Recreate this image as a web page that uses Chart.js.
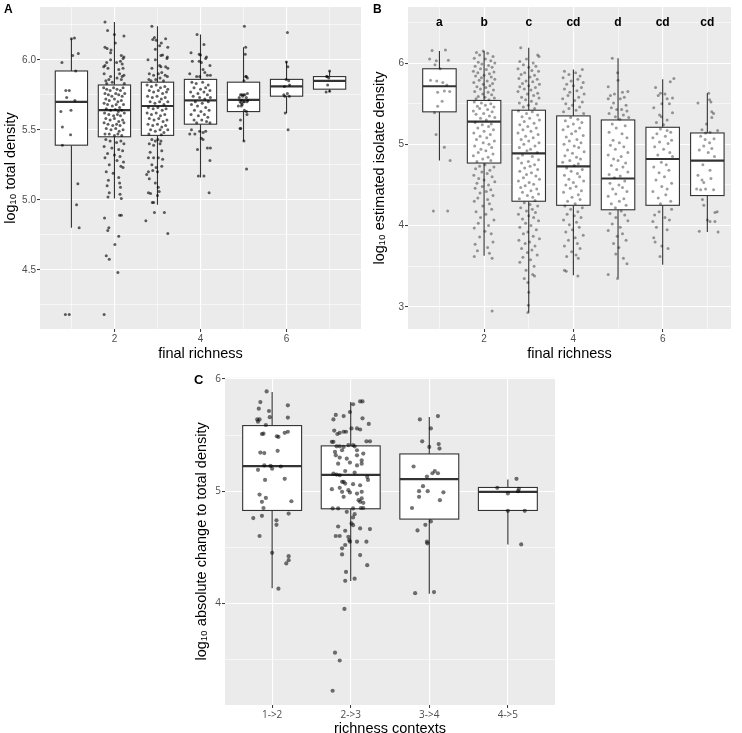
<!DOCTYPE html>
<html>
<head>
<meta charset="utf-8">
<script src="https://cdn.jsdelivr.net/npm/chart.js@4.4.1/dist/chart.umd.min.js"></script>
<style>
  body { margin: 0; background: #fff; width: 742px; height: 733px; position: relative; overflow: hidden; }
  .panel { position: absolute; }
</style>
</head>
<body>
<div class="panel" style="left:0;top:0"><canvas id="chartA" width="370" height="365"></canvas></div>
<div class="panel" style="left:370px;top:0"><canvas id="chartB" width="372" height="365"></canvas></div>
<div class="panel" style="left:180px;top:365px"><canvas id="chartC" width="400" height="372"></canvas></div>
<script>
// ---- panel A: log10 total density by final richness ----
const richness = [1, 2, 3, 4, 5, 6, 7];
// box stats: [lower whisker, q1, median, q3, upper whisker]
const boxA = [
  [4.80, 5.39, 5.70, 5.92, 6.15],
  [5.01, 5.45, 5.64, 5.82, 6.27],
  [4.965, 5.46, 5.67, 5.84, 6.24],
  [5.16, 5.54, 5.71, 5.86, 6.18],
  [5.42, 5.63, 5.713, 5.84, 6.09],
  [5.62, 5.74, 5.81, 5.86, 5.99],
  [5.77, 5.79, 5.85, 5.88, 5.92]
];
// jittered points: [x jitter, value]
const pointsA = [
  [[-.22,5.98],[-.13,5.78],[-.05,5.78],[-.11,5.73],[-.245,5.63],[-.01,5.64],[-.21,5.52],[-.02,5.465],[-.21,5.39],[.08,5.71],[.03,6.03],[0,6.15],[.07,6.155],[.16,6.045],[.1,5.92],[.15,5.115],[.12,4.965],[.18,4.8],[-.14,4.18],[-.05,4.18]],
  [[-.22,6.27],[-.16,6.21],[0,6.18],[.22,6.17],[.02,6.12],[-.22,6.09],[-.17,6.08],[-.08,6.07],[-.09,6.05],[.16,6.03],[.2,6.01],[.22,6.02],[-.18,5.98],[-.22,5.96],[-.25,5.95],[-.15,5.94],[-.09,6.0],[.05,5.98],[.14,5.99],[.18,5.97],[.2,5.94],[.1,5.93],[.12,5.9],[.18,5.88],[.22,5.89],[.16,5.86],[.06,5.87],[-.09,5.88],[-.13,5.86],[-.2,5.85],[-.24,5.9],[-.05,5.84],[.23,5.83],[-.18,5.83],
   [-.25,5.8],[-.18,5.79],[-.1,5.78],[-.02,5.8],[.06,5.79],[.14,5.78],[.2,5.8],[-.22,5.76],[-.14,5.75],[-.06,5.74],[.03,5.76],[.1,5.75],[.18,5.74],[.24,5.76],[-.2,5.72],[-.12,5.71],[0,5.72],[.08,5.7],[.16,5.71],[-.24,5.69],[-.16,5.68],[-.05,5.67],[.04,5.68],[.12,5.66],[.21,5.68],[-.19,5.65],[-.09,5.64],[.02,5.645],[.09,5.63],[.17,5.64],[-.23,5.62],[-.13,5.61],[-.02,5.6],[.07,5.61],[.14,5.6],[.23,5.62],[-.2,5.58],[-.1,5.57],[0,5.58],[.1,5.56],[.19,5.57],[-.24,5.55],[-.15,5.54],[-.04,5.53],[.05,5.54],[.13,5.53],[.22,5.55],[-.19,5.51],[-.08,5.5],[.03,5.51],[.11,5.49],[.2,5.5],[-.22,5.47],[-.12,5.47],[0,5.46],[.08,5.47],[.17,5.46],
   [-.2,5.43],[-.1,5.42],[.05,5.41],[.15,5.42],[.22,5.4],[-.24,5.38],[-.06,5.37],[.1,5.36],[.19,5.35],[-.16,5.33],[0,5.32],[.13,5.31],[-.22,5.3],[.06,5.28],[.21,5.27],[-.12,5.25],[.15,5.24],[.2,5.23],[-.19,5.2],[-.03,5.19],[.1,5.16],[-.14,5.14],[.12,5.12],[-.17,5.1],[.14,5.09],[-.12,5.05],[.13,5.04],[-.15,5.02],[.16,5.01],
   [-.23,4.87],[-.155,4.78],[-.13,4.8],[.12,4.89],[.16,4.89],[.1,4.74],[.01,4.68],[-.19,4.6],[-.12,4.575],[.08,4.48],[-.24,4.18]],
  [[-.13,6.24],[-.07,6.16],[-.11,6.145],[-.03,6.14],[.05,6.1],[.09,6.12],[.19,6.15],[.24,6.09],[-.05,6.075],[.08,6.03],[.12,6.035],[.23,6.02],[.22,6.01],[-.22,6.0],[-.05,6.0],[.05,5.96],[.08,5.95],[.19,5.95],[.24,5.94],[-.13,5.94],[-.19,5.9],[-.09,5.89],[.02,5.9],[.1,5.91],[.18,5.89],[.23,5.88],[-.2,5.86],[-.15,5.85],[-.04,5.86],[.06,5.87],[.14,5.85],
   [-.24,5.82],[-.14,5.81],[-.03,5.82],[.07,5.8],[.17,5.81],[.24,5.79],[-.19,5.78],[-.09,5.77],[.02,5.78],[.12,5.76],[.21,5.77],[-.23,5.74],[-.12,5.73],[-.01,5.74],[.09,5.72],[.18,5.73],[-.17,5.7],[-.06,5.69],[.05,5.7],[.15,5.68],[.24,5.7],[-.21,5.66],[-.1,5.65],[.01,5.66],[.11,5.64],[.2,5.65],[-.24,5.62],[-.14,5.61],[-.03,5.62],[.07,5.6],[.17,5.61],[-.19,5.58],[-.08,5.57],[.03,5.58],[.13,5.56],[.22,5.57],[-.22,5.54],[-.11,5.53],[0,5.54],[.1,5.52],[.19,5.53],[-.16,5.5],[-.05,5.49],[.06,5.5],[.15,5.48],[.24,5.5],[-.2,5.47],[.09,5.465],
   [-.13,5.43],[-.05,5.42],[.01,5.43],[.08,5.42],[-.19,5.4],[-.09,5.39],[.06,5.4],[.1,5.35],[-.17,5.34],[-.21,5.3],[-.09,5.3],[.02,5.3],[.12,5.29],[-.13,5.25],[-.03,5.23],[.1,5.24],[-.21,5.2],[-.11,5.21],[0,5.2],[-.25,5.18],[-.19,5.15],[-.05,5.12],[.02,5.09],[.04,5.06],[0,5.03],[-.21,5.05],[-.16,5.045],[-.12,4.98],[-.09,4.98],[-.07,4.91],[.16,4.91],[-.27,4.85],[.24,4.76]],
  [[-.08,6.18],[.08,6.11],[-.22,6.05],[-.03,6.04],[0,6.035],[.14,6.02],[.12,6.01],[-.19,5.99],[-.03,5.99],[.02,5.98],[.22,5.96],[.06,5.93],[.1,5.91],[-.25,5.9],[.16,5.89],[.23,5.89],[-.09,5.88],[-.02,5.88],
   [-.2,5.84],[-.1,5.83],[.05,5.84],[.18,5.82],[-.15,5.8],[0,5.79],[.12,5.8],[.22,5.78],[-.23,5.77],[-.06,5.76],[.08,5.77],[.16,5.75],[-.17,5.74],[-.02,5.73],[.1,5.72],[.23,5.73],[-.12,5.7],[.04,5.69],[.18,5.7],[-.21,5.68],[-.07,5.67],[.12,5.66],[-.14,5.64],[.01,5.63],[.2,5.64],[-.22,5.61],[-.05,5.6],[.09,5.61],[.17,5.59],[-.15,5.57],[.03,5.57],[.14,5.56],[-.09,5.55],[.22,5.55],
   [-.25,5.47],[-.21,5.5],[-.13,5.47],[-.02,5.49],[.06,5.48],[.12,5.49],[.02,5.44],[.06,5.43],[-.07,5.36],[.16,5.37],[.23,5.37],[.22,5.28],[-.05,5.17],[.08,5.17],[.2,5.05]],
  [[.02,6.24],[.05,6.09],[.04,6.04],[.01,5.85],[.05,5.88],[.065,5.88],[.09,5.87],[-.07,5.75],[-.04,5.75],[0,5.75],[.03,5.75],[.09,5.76],[.065,5.73],[-.02,5.74],[-.1,5.73],[-.05,5.71],[-.08,5.7],[-.05,5.69],[0,5.7],[.02,5.7],[.08,5.7],[.1,5.71],[-.12,5.67],[-.05,5.67],[-.03,5.68],[.02,5.64],[.07,5.63],[.08,5.61],[-.07,5.57],[-.08,5.51],[-.065,5.51],[.01,5.42],[.07,5.22]],
  [[.02,6.195],[-.005,5.985],[.03,5.95],[-.01,5.86],[.05,5.85],[.07,5.82],[-.05,5.81],[-.065,5.75],[-.04,5.74],[.02,5.76],[.065,5.74],[-.03,5.62],[.035,5.5]],
  [[0,5.92],[-.07,5.88],[-.055,5.88],[-.02,5.87],[-.045,5.82],[-.08,5.77],[0,5.775]]
];
const yMajorA = [4.5, 5.0, 5.5, 6.0];
const yMinorA = [4.25, 4.75, 5.25, 5.75, 6.25];
const xMajor = [2, 4, 6];
const xMinor = [1, 3, 5, 7];

// ---- panel B: log10 estimated isolate density by final richness ----
const lettersB = ['a', 'b', 'c', 'cd', 'd', 'cd', 'cd'];
const boxB = [
  [4.80, 5.40, 5.715, 5.93, 6.15],
  [3.63, 4.77, 5.28, 5.54, 6.15],
  [2.93, 4.30, 4.89, 5.42, 6.19],
  [3.39, 4.25, 4.73, 5.35, 5.92],
  [3.36, 4.195, 4.58, 5.30, 6.06],
  [3.52, 4.25, 4.82, 5.21, 5.80],
  [3.92, 4.37, 4.80, 5.14, 5.63]
];
const pointsB = [
  [[-.165,6.155],[.135,6.16],[-.22,6.05],[.2,6.035],[-.07,6.03],[-.1,5.98],[.015,5.93],[-.2,5.79],[-.06,5.78],[.165,5.73],[.075,5.76],[-.04,5.64],[.11,5.655],[.23,5.65],[.06,5.53],[-.04,5.47],[-.11,5.39],[-.075,5.12],[.11,4.965],[.24,4.8],[-.135,4.18],[.185,4.18]],
  [[-.02,6.15],[-.17,6.13],[.08,6.12],[-.1,6.1],[.2,6.08],[-.22,6.06],[.03,6.05],[.15,6.03],[-.13,6.01],[.24,6.0],[-.05,5.99],[.1,5.97],[-.2,5.96],[.18,5.95],[-.08,5.93],[.05,5.92],[-.24,5.9],[.22,5.89],[-.14,5.88],[.12,5.87],[0,5.85],[-.19,5.84],[.16,5.83],[-.06,5.82],[.24,5.8],[-.11,5.79],[.07,5.78],[-.23,5.76],[.19,5.75],[-.02,5.74],[.13,5.72],[-.16,5.71],[.04,5.7],[-.08,5.68],[.21,5.67],[-.21,5.65],[.09,5.64],[-.03,5.62],[.17,5.61],[-.13,5.59],[.02,5.58],[.23,5.57],[-.18,5.56],[.11,5.55],
   [-.22,5.52],[-.06,5.51],[.15,5.5],[.03,5.48],[-.15,5.47],[.22,5.46],[-.1,5.44],[.08,5.43],[-.24,5.41],[.18,5.4],[-.01,5.38],[-.18,5.37],[.12,5.35],[.24,5.33],[-.08,5.32],[.05,5.3],[-.2,5.27],[.16,5.25],[-.04,5.24],[.1,5.22],[-.14,5.2],[.21,5.18],[0,5.16],[-.23,5.14],[.14,5.12],[-.09,5.1],[.06,5.08],[-.17,5.06],[.23,5.04],[-.02,5.02],[.11,5.0],[-.21,4.98],[.17,4.96],[-.07,4.94],[.04,4.92],[-.13,4.9],[.2,4.88],[-.24,4.86],[.09,4.84],[-.03,4.82],[.15,4.8],[-.16,4.79],
   [.02,4.75],[-.1,4.73],[.22,4.72],[-.19,4.7],[.13,4.68],[-.05,4.66],[.07,4.64],[-.23,4.62],[.18,4.6],[-.12,4.58],[0,4.56],[.24,4.54],[-.16,4.52],[.1,4.5],[-.04,4.48],[-.2,4.46],[.15,4.44],[.05,4.42],[-.09,4.4],[.2,4.37],[-.14,4.34],[.08,4.32],[-.22,4.3],[.12,4.27],[-.03,4.24],[.17,4.2],[-.18,4.17],[.04,4.14],[-.08,4.1],[.22,4.07],[-.13,4.03],[.1,4.0],[-.22,3.97],[.02,3.93],[.16,3.9],[-.1,3.86],[.2,3.8],[-.2,3.77],[.08,3.73],[-.15,3.69],[.12,3.66],[-.22,3.62],[.18,3.6],[.18,2.95]],
  [[-.18,6.19],[.2,6.1],[.23,6.08],[-.05,6.05],[-.2,6.02],[.1,6.0],[-.12,5.98],[.16,5.96],[0,5.95],[-.24,5.93],[.07,5.91],[.22,5.9],[-.09,5.88],[-.17,5.86],[.13,5.85],[.03,5.83],[-.22,5.81],[.19,5.8],[-.06,5.78],[.09,5.77],[-.14,5.75],[.24,5.74],[0,5.72],[-.2,5.71],[.15,5.7],[-.1,5.68],[.05,5.67],[-.24,5.65],[.2,5.63],[-.03,5.62],[.11,5.6],[-.16,5.58],[.23,5.57],[-.07,5.55],[.06,5.53],[-.21,5.51],[.17,5.5],[-.01,5.48],[-.12,5.46],[.13,5.44],
   [-.23,5.41],[.08,5.4],[-.05,5.38],[.2,5.36],[-.15,5.34],[.02,5.32],[.24,5.3],[-.1,5.28],[.12,5.26],[-.2,5.24],[-.02,5.22],[.17,5.2],[-.13,5.18],[.05,5.16],[-.24,5.14],[.21,5.12],[-.07,5.1],[.1,5.08],[-.17,5.06],[0,5.04],[.23,5.02],[-.11,5.0],[.14,4.98],[-.21,4.96],[.04,4.94],[-.04,4.92],[.19,4.9],[-.14,4.87],[.08,4.85],[-.24,4.83],[.22,4.81],[-.01,4.79],[-.16,4.77],[.13,4.75],[.03,4.73],[-.09,4.71],[.2,4.69],[-.2,4.67],[.06,4.65],[-.05,4.63],[.16,4.61],[-.12,4.59],[.24,4.57],[-.23,4.55],[.01,4.53],[.11,4.51],[-.08,4.49],[-.18,4.47],[.18,4.45],[.05,4.43],[-.14,4.41],[.22,4.39],[-.03,4.37],[.09,4.35],[-.21,4.33],[.14,4.31],
   [-.1,4.28],[.03,4.26],[.2,4.24],[-.18,4.22],[.08,4.2],[-.05,4.18],[.15,4.16],[-.23,4.14],[0,4.12],[.11,4.1],[-.14,4.08],[.22,4.06],[-.07,4.03],[.05,4.0],[-.2,3.98],[.17,3.95],[-.02,3.92],[-.12,3.9],[.1,3.87],[.24,3.84],[-.22,3.82],[.02,3.8],[-.08,3.78],[.14,3.75],[-.16,3.72],[.07,3.7],[-.03,3.67],[.19,3.64],[-.13,3.61],[.04,3.58],[-.2,3.55],[.12,3.5],[-.06,3.45],[.09,3.4],[-.1,3.35],[.13,3.38],[-.02,3.3],[0,3.18],[-.01,3.02],[-.02,2.93]],
  [[-.2,5.9],[.2,5.92],[.05,5.88],[-.1,5.86],[.15,5.84],[-.23,5.82],[.1,5.8],[-.05,5.78],[.22,5.76],[-.15,5.74],[0,5.72],[.18,5.7],[-.2,5.68],[.08,5.66],[-.08,5.64],[.24,5.62],[-.12,5.6],[.12,5.58],[-.24,5.56],[.03,5.54],[.2,5.52],[-.17,5.5],[-.02,5.48],[.14,5.46],[-.1,5.44],[.06,5.42],[-.22,5.4],[.23,5.38],
   [-.06,5.33],[.1,5.31],[-.18,5.29],[.19,5.27],[0,5.25],[-.12,5.22],[.14,5.2],[-.23,5.18],[.05,5.16],[-.04,5.13],[.22,5.11],[-.16,5.09],[.08,5.06],[-.09,5.04],[.17,5.02],[-.21,5.0],[.02,4.98],[.12,4.96],[-.13,4.93],[.24,4.91],[-.02,4.89],[-.19,4.86],[.07,4.84],[.16,4.82],[-.08,4.8],[-.24,4.78],[.11,4.76],[.02,4.74],[-.15,4.71],[.2,4.69],[-.05,4.67],[.09,4.64],[-.2,4.62],[.14,4.6],[-.1,4.57],[.23,4.55],[0,4.53],[-.17,4.5],[.06,4.48],[-.07,4.46],[.18,4.43],[-.22,4.41],[.11,4.38],[-.03,4.35],[.15,4.32],[-.13,4.3],[.04,4.27],
   [-.19,4.24],[.2,4.22],[-.06,4.2],[.1,4.17],[-.14,4.14],[.02,4.12],[.17,4.1],[-.22,4.07],[.07,4.04],[-.09,4.01],[.13,3.98],[-.02,3.95],[-.17,3.92],[.22,3.88],[.04,3.85],[-.11,3.82],[.09,3.78],[-.2,3.75],[.15,3.72],[-.04,3.68],[.06,3.64],[-.15,3.62],[.11,3.6],[-.2,3.45],[-.16,3.44],[.1,3.38]],
  [[-.13,6.06],[-.01,5.88],[-.22,5.71],[0,5.79],[-.17,5.6],[-.08,5.62],[.1,5.64],[.22,5.65],[-.22,5.56],[.05,5.56],[.14,5.58],[-.1,5.51],[.18,5.48],[-.15,5.45],[.08,5.43],[-.03,5.43],[.2,5.41],[-.2,5.38],[.12,5.36],[-.06,5.34],[.24,5.33],[.04,5.31],
   [-.13,5.25],[.16,5.23],[-.04,5.2],[-.2,5.15],[.09,5.13],[.2,5.08],[-.11,5.05],[.03,5.02],[-.17,4.99],[.13,4.97],[-.06,4.94],[.22,4.9],[-.22,4.87],[.07,4.85],[-.1,4.82],[0,4.8],[.17,4.77],[-.15,4.74],[.11,4.72],[-.03,4.69],[.22,4.66],[-.2,4.63],[.05,4.61],[-.08,4.59],[.15,4.55],[-.18,4.52],[.02,4.5],[.1,4.47],[-.12,4.45],[.2,4.42],[-.05,4.39],[-.22,4.36],[.13,4.33],[.03,4.3],[-.15,4.27],[.18,4.25],[-.06,4.22],
   [.07,4.18],[-.18,4.15],[.15,4.13],[-.05,4.1],[.22,4.06],[-.13,4.02],[.05,3.98],[-.22,3.94],[.1,3.9],[-.02,3.87],[.18,3.82],[-.1,3.78],[.02,3.73],[-.05,3.65],[.12,3.6],[.2,3.53],[-.22,3.4],[-.01,3.35]],
  [[.25,5.81],[.17,5.77],[-.16,5.7],[-.05,5.63],[-.1,5.6],[.05,5.62],[.1,5.56],[.22,5.57],[.15,5.5],[-.02,5.5],[-.2,5.45],[.22,5.39],[-.07,5.36],[-.03,5.34],[.1,5.3],[-.14,5.27],[.02,5.24],
   [-.05,5.19],[.1,5.17],[.18,5.15],[-.13,5.13],[.06,5.1],[-.22,5.08],[.2,5.05],[-.07,5.03],[.12,5.01],[-.18,4.97],[.02,4.94],[.16,4.9],[-.11,4.87],[.22,4.85],[-.03,4.78],[.08,4.75],[-.2,4.72],[.14,4.68],[-.08,4.65],[.04,4.6],[-.15,4.56],[.2,4.52],[-.02,4.48],[.1,4.45],[-.22,4.42],[.07,4.38],[-.1,4.34],[.18,4.3],[-.05,4.27],
   [.2,4.2],[-.08,4.17],[-.18,4.13],[.05,4.1],[-.22,4.05],[.15,4.07],[-.14,3.98],[.1,3.95],[-.2,3.85],[-.17,3.8],[-.02,3.75],[.12,3.72],[-.06,3.62]],
  [[.03,5.63],[.05,5.55],[-.21,5.51],[.08,5.52],[.1,5.4],[.14,5.38],[.1,5.33],[-.02,5.25],[-.12,5.18],[.23,5.17],[.06,5.15],[-.04,5.14],[-.15,5.1],[-.05,5.06],[.15,5.07],[.05,5.02],[-.08,4.98],[.1,4.95],[-.18,4.93],[.02,4.9],[.16,4.85],[-.1,4.75],[.06,4.68],[-.21,4.62],[-.12,4.56],[-.08,4.53],[.08,4.58],[-.24,4.45],[-.15,4.44],[-.04,4.45],[.14,4.44],[-.11,4.32],[-.08,4.25],[0,4.07],[.17,4.16],[.22,4.17],[.06,4.05],[.17,4.05],[-.18,3.93],[.24,3.92]]
];
const yMajorB = [3, 4, 5, 6];
const yMinorB = [3.5, 4.5, 5.5, 6.5];

// ---- panel C: log10 absolute change to total density by richness context ----
const contexts = ['1->2', '2->3', '3->4', '4->5'];
const boxC = [
  [4.134, 4.828, 5.223, 5.585, 5.884],
  [4.199, 4.843, 5.145, 5.404, 5.795],
  [4.086, 4.751, 5.107, 5.332, 5.662],
  [4.525, 4.828, 4.994, 5.033, 5.104]
];
const pointsC = [
  [[-.07,5.89],[-.15,5.795],[-.17,5.736],[-.04,5.715],[.2,5.766],[-.03,5.66],[.2,5.656],[-.19,5.64],[-.16,5.64],[-.18,5.62],[-.08,5.59],[-.13,5.51],[-.11,5.513],[.06,5.49],[.08,5.484],[.16,5.52],[.2,5.53],[-.15,5.344],[-.1,5.34],[.07,5.36],[-.1,5.23],[-.02,5.225],[0,5.2],[-.18,5.19],[.11,5.22],[.16,5.11],[-.09,5.1],[-.16,4.97],[-.08,4.94],[-.13,4.905],[.245,4.91],[-.11,4.85],[-.24,4.76],[-.13,4.78],[.21,4.8],[.055,4.74],[.055,4.7],[-.16,4.6],[0,4.45],[.21,4.42],[.21,4.385],[.18,4.356],[.08,4.13]],
  [[.12,5.8],[.15,5.8],[.03,5.775],[-.01,5.706],[-.09,5.67],[-.19,5.68],[-.22,5.64],[.15,5.65],[.23,5.6],[.01,5.56],[.08,5.56],[.12,5.55],[-.21,5.54],[-.17,5.51],[-.14,5.52],[-.09,5.53],[-.06,5.53],[-.24,5.44],[-.22,5.44],[.2,5.445],[.245,5.445],[-.18,5.4],[-.14,5.4],[-.09,5.395],[-.03,5.41],[.03,5.41],[.05,5.4],[-.2,5.35],[-.11,5.365],[.08,5.365],[.16,5.335],[-.19,5.32],[-.14,5.3],[-.05,5.29],[.08,5.32],[.14,5.275],[-.16,5.245],[-.01,5.255],[.08,5.23],[.14,5.245],[-.22,5.157],[-.18,5.148],[-.14,5.142],[-.07,5.18],[.05,5.166],[.21,5.128],[.22,5.1],[-.11,5.083],[-.09,5.083],[-.07,5.068],[.03,5.062],[.12,5.053],[-.24,5.018],[-.14,5.03],[-.03,5.009],[-.11,4.994],[-.01,4.988],[.08,4.979],[.14,4.994],[-.09,4.95],[.14,4.935],[.12,4.905],[.1,4.92],[.16,4.896],[-.23,4.846],[-.16,4.846],[.03,4.846],[.13,4.85],[.16,4.85],[-.05,4.816],[.03,4.766],[.05,4.795],[.01,4.712],[.03,4.697],[.12,4.668],[.245,4.662],[-.16,4.685],[-.07,4.647],[-.19,4.6],[-.14,4.6],[-.03,4.593],[-.02,4.564],[-.01,4.55],[.08,4.55],[.2,4.55],[-.11,4.49],[-.07,4.52],[-.11,4.436],[.12,4.43],[.21,4.34],[-.06,4.28],[-.07,4.2],[.05,4.22],[-.08,3.95],[-.2,3.56],[-.14,3.49],[-.23,3.22]],
  [[-.12,5.64],[.11,5.67],[.02,5.56],[-.09,5.445],[.12,5.42],[.13,5.38],[0,5.395],[-.2,5.22],[.07,5.18],[.04,5.16],[-.03,5.13],[.11,5.16],[-.08,5.045],[-.13,5.0],[-.02,5.0],[-.13,4.95],[.18,4.99],[.135,4.92],[-.22,4.85],[-.05,4.7],[.02,4.73],[-.15,4.65],[-.03,4.55],[-.025,4.535],[-.18,4.09],[.06,4.1]],
  [[-.135,5.03],[0,4.98],[.14,5.02],[.13,5.0],[.11,5.11],[0,4.825],[.215,4.825],[.17,4.525]]
];
const yMajorC = [4, 5, 6];
const yMinorC = [3.5, 4.5, 5.5];

const FONT = "'Liberation Sans', Arial, sans-serif";

function tickList(major, minor) {
  return major.map(v => ({ value: v }))
    .concat(minor.map(v => ({ value: v, minor: true })))
    .sort((a, b) => a.value - b.value);
}

function axis(min, max, ticks, fmt, title, fit, titlePad, tickFont) {
  return {
    type: 'linear', min: min, max: max,
    afterBuildTicks: a => { a.ticks = ticks.map(t => Object.assign({}, t)); },
    afterFit: a => { if (fit.w) a.width = fit.w; if (fit.h) a.height = fit.h; },
    border: { display: false },
    grid: {
      color: '#ffffff',
      lineWidth: c => (c.tick && c.tick.minor) ? 0.55 : 1.1,
      tickColor: c => (c.tick && c.tick.minor) ? 'rgba(0,0,0,0)' : '#333333',
      tickWidth: 1,
      tickLength: 3
    },
    ticks: {
      autoSkip: false, maxRotation: 0, padding: 1,
      color: '#4d4d4d',
      font: { family: tickFont || FONT, size: 10 },
      callback: (v, i, t) => t[i].minor ? '' : fmt(v)
    },
    title: {
      display: true, text: title, color: '#000',
      font: { family: FONT, size: 14.5, lineHeight: 1.1 },
      padding: titlePad
    }
  };
}

const panelBg = {
  id: 'panelBg',
  beforeDraw(chart) {
    const a = chart.chartArea, ctx = chart.ctx;
    ctx.save();
    ctx.fillStyle = '#ebebeb';
    ctx.fillRect(a.left, a.top, a.right - a.left, a.bottom - a.top);
    ctx.restore();
  }
};

function boxPlugin(stats, width) {
  return {
    id: 'boxplot',
    beforeDatasetsDraw(chart) {
      const ctx = chart.ctx, x = chart.scales.x, y = chart.scales.y;
      ctx.save();
      stats.forEach((s, i) => {
        const cx = x.getPixelForValue(i + 1);
        const hw = x.getPixelForValue(i + 1 + width / 2) - cx;
        const [lo, q1, med, q3, hi] = s.map(v => y.getPixelForValue(v));
        ctx.strokeStyle = '#333333';
        ctx.lineWidth = 1.1;
        ctx.beginPath();
        ctx.moveTo(cx, q3); ctx.lineTo(cx, hi);
        ctx.moveTo(cx, q1); ctx.lineTo(cx, lo);
        ctx.stroke();
        ctx.fillStyle = '#ffffff';
        ctx.fillRect(cx - hw, q3, 2 * hw, q1 - q3);
        ctx.strokeRect(cx - hw, q3, 2 * hw, q1 - q3);
        ctx.lineWidth = 2.2;
        ctx.beginPath();
        ctx.moveTo(cx - hw, med); ctx.lineTo(cx + hw, med);
        ctx.stroke();
      });
      ctx.restore();
    }
  };
}

function labelPlugin(letter, lx, ly, font, extra) {
  return {
    id: 'panelLabel',
    afterDraw(chart) {
      const ctx = chart.ctx;
      ctx.save();
      ctx.fillStyle = '#000';
      ctx.font = font;
      ctx.textBaseline = 'middle';
      ctx.fillText(letter, lx, ly);
      if (extra) extra(chart, ctx);
      ctx.restore();
    }
  };
}

function jitterPoints(groups) {
  const out = [];
  groups.forEach((pts, i) => pts.forEach(p => out.push({ x: i + 1 + p[0], y: p[1] })));
  return out;
}

function makeChart(id, cfg) {
  return new Chart(document.getElementById(id), {
    type: 'scatter',
    data: {
      datasets: [{
        data: jitterPoints(cfg.points),
        pointRadius: cfg.radius,
        pointHoverRadius: cfg.radius,
        backgroundColor: cfg.color,
        borderWidth: 0
      }]
    },
    options: {
      responsive: false,
      animation: false,
      devicePixelRatio: 1,
      layout: { autoPadding: false, padding: cfg.padding },
      plugins: { legend: { display: false }, tooltip: { enabled: false } },
      scales: { x: cfg.x, y: cfg.y }
    },
    plugins: [panelBg, boxPlugin(cfg.boxes, 0.75), cfg.label]
  });
}

const fmt1 = v => v.toFixed(1);
const fmt0 = v => String(v);

makeChart('chartA', {
  points: pointsA, boxes: boxA, radius: 1.5, color: 'rgba(0,0,0,0.62)',
  padding: { left: 0, right: 9, top: 0, bottom: 0 },
  x: axis(0.27, 7.73, tickList(xMajor, xMinor), fmt0, 'final richness', { h: 36 }, { top: 0, bottom: 3 }),
  y: axis(4.077, 6.377, tickList(yMajorA, yMinorA), fmt1, 'log\u2081\u2080 total density', { w: 40 }, { top: 3, bottom: 0 }),
  label: labelPlugin('A', 4, 10, 'bold 12px ' + FONT)
});

makeChart('chartB', {
  points: pointsB, boxes: boxB, radius: 1.5, color: 'rgba(0,0,0,0.38)',
  padding: { left: 0, right: 11, top: 0, bottom: 0 },
  x: axis(0.296, 7.53, tickList(xMajor, xMinor), fmt0, 'final richness', { h: 36 }, { top: 0, bottom: 3 }),
  y: axis(2.728, 6.69, tickList(yMajorB, yMinorB), fmt0, 'log\u2081\u2080 estimated isolate density', { w: 38 }, { top: 2, bottom: 0 }),
  label: labelPlugin('B', 3, 10, 'bold 12px ' + FONT, (chart, ctx) => {
    const x = chart.scales.x;
    ctx.font = 'bold 12px ' + FONT;
    ctx.textAlign = 'center';
    lettersB.forEach((t, i) => ctx.fillText(t, x.getPixelForValue(richness[i]), chart.chartArea.top + 16));
  })
});

makeChart('chartC', {
  points: pointsC, boxes: boxC, radius: 2.1, color: 'rgba(0,0,0,0.55)',
  padding: { left: 0, right: 25, top: 12.7, bottom: 0 },
  x: axis(0.4, 4.6, tickList([1, 2, 3, 4], []), v => contexts[v - 1], 'richness contexts', { h: 32 }, { top: 0, bottom: 0 }, "'Open Sans', sans-serif"),
  y: axis(3.093, 6.012, tickList(yMajorC, yMinorC), fmt0, 'log\u2081\u2080 absolute change to total density', { w: 45 }, { top: 14, bottom: 0 }, "'Open Sans', sans-serif"),
  label: labelPlugin('C', 14, 15, 'bold 13px ' + FONT)
});
</script>
</body>
</html>
